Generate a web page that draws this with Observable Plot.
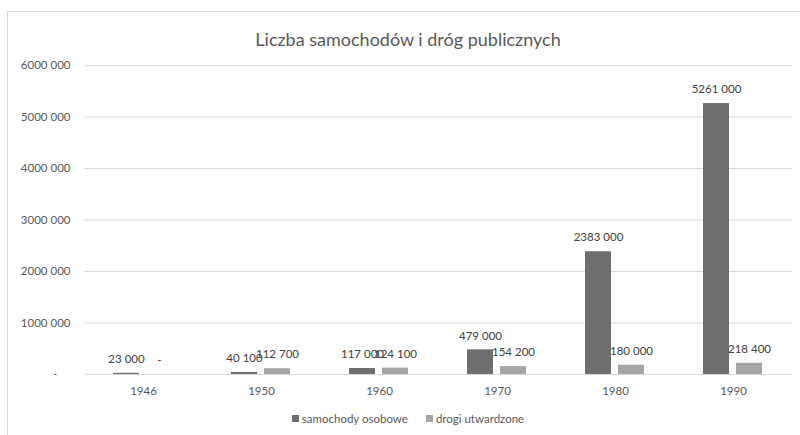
<!DOCTYPE html>
<html><head><meta charset="utf-8">
<script src="https://cdn.jsdelivr.net/npm/d3@7"></script>
<script src="https://cdn.jsdelivr.net/npm/@observablehq/plot@0.6"></script>
<style>
body{margin:0;width:800px;height:435px;overflow:hidden;background:#fff;font-family:Lato,sans-serif;position:relative}
#frame{position:absolute;left:7px;top:11px;width:802px;height:500px;border:1px solid #d9d9d9;box-sizing:border-box}
#title{position:absolute;left:7px;width:802px;top:28px;text-align:center;font-size:18px;color:#595959;line-height:22px}
#chart{position:absolute;left:0;top:50px}
#legend{position:absolute;top:412px;left:7px;width:802px;text-align:center;font-size:11.5px;color:#595959;line-height:14px}
#legend .sw{display:inline-block;width:7px;height:7px;margin-right:3px;vertical-align:1px}
#legend .item{margin:0 9px}
</style></head>
<body>
<div id="frame"></div>
<div id="title">Liczba samochodów i dróg publicznych</div>
<div id="chart"></div>
<div id="legend"></div>
<script>
const years = ["1946", "1950", "1960", "1970", "1980", "1990"];
const seriesNames = ["samochody osobowe", "drogi utwardzone"];
const samochody = [23000, 40100, 117000, 479000, 2383000, 5261000];
const drogi = [0, 112700, 124100, 154200, 180000, 218400];
const seriesColors = ["#6e6e6e", "#a6a6a6"];

const fmt = v => v === 0 ? "-" : (v >= 1000 ? Math.floor(v / 1000) + " " + String(v % 1000).padStart(3, "0") : String(v));
const axisFmt = v => v === 0 ? "-\u2007\u2007" : fmt(v);

const rows = years.flatMap((y, i) => [
  {year: y, series: seriesNames[0], value: samochody[i]},
  {year: y, series: seriesNames[1], value: drogi[i]}
]);

const plot = Plot.plot({
  width: 800, height: 360,
  marginLeft: 83, marginRight: 8, marginTop: 15, marginBottom: 36,
  style: {fontFamily: "Lato", fontSize: "11.5px", color: "#595959", background: "transparent"},
  fx: {domain: years, padding: 0, label: null, tickSize: 0, tickPadding: 12},
  x: {domain: seriesNames, paddingInner: 0.2, paddingOuter: 0.84, axis: null},
  y: {domain: [0, 6000000], ticks: 6, tickFormat: axisFmt, tickSize: 0, tickPadding: 14, label: null},
  color: {domain: seriesNames, range: seriesColors},
  marks: [
    Plot.ruleY(d3.ticks(0, 6000000, 6), {stroke: "#d9d9d9", strokeWidth: 1}),
    Plot.barY(rows, {fx: "year", x: "series", y: "value", fill: "series"}),
    Plot.text(rows, {fx: "year", x: "series", y: "value", text: d => fmt(d.value), dy: -14, fill: "#404040"})
  ]
});
document.getElementById("chart").appendChild(plot);

const legend = document.getElementById("legend");
seriesNames.forEach((s, i) => {
  const item = document.createElement("span");
  item.className = "item";
  const sw = document.createElement("span");
  sw.className = "sw";
  sw.style.background = seriesColors[i];
  item.appendChild(sw);
  item.appendChild(document.createTextNode(s));
  legend.appendChild(item);
});
</script>
</body></html>
